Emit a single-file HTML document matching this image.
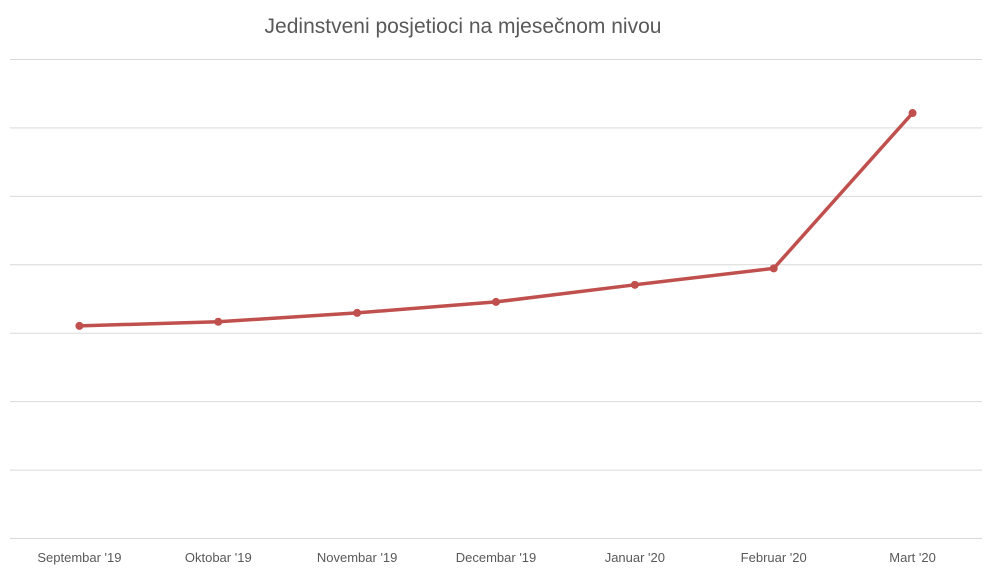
<!DOCTYPE html>
<html><head><meta charset="utf-8"><style>
html,body{margin:0;padding:0;background:#fff;}
svg{display:block;font-family:"Liberation Sans",sans-serif;}
</style></head><body>
<svg id="chart" width="991" height="577" viewBox="0 0 991 577">
<text x="463" y="33" text-anchor="middle" font-size="21" fill="#595959">Jedinstveni posjetioci na mjesečnom nivou</text>
<g id="grid"></g><g id="xlabels"></g><g id="series"></g>
</svg>
<script>
const categories=["Septembar '19","Oktobar '19","Novembar '19","Decembar '19","Januar '20","Februar '20","Mart '20"];
const values=[3.10,3.16,3.29,3.45,3.70,3.94,6.21];
const gridTicks=[0,1,2,3,4,5,6,7];
const NS="http://www.w3.org/2000/svg";
const plotLeft=10,plotRight=982,plotTop=59,plotBottom=538,yMax=7;
const stepX=(plotRight-plotLeft)/categories.length;
function xPos(i){return plotLeft+stepX*(i+0.5);}
function yPos(v){return plotBottom-(v/yMax)*(plotBottom-plotTop);}
const gridG=document.getElementById('grid');
gridTicks.forEach(t=>{
  const l=document.createElementNS(NS,'line');
  
  
  l.setAttribute('x1',plotLeft);l.setAttribute('x2',plotRight);
  l.setAttribute('y1',yPos(t)+0.5);l.setAttribute('y2',yPos(t)+0.5);
  l.setAttribute('stroke','#d9d9d9');l.setAttribute('stroke-width','1');
  gridG.appendChild(l);
});
const xlG=document.getElementById('xlabels');
categories.forEach((c,i)=>{
  const t=document.createElementNS(NS,'text');
  
  
  t.setAttribute('x',xPos(i));t.setAttribute('y',562);
  t.setAttribute('text-anchor','middle');t.setAttribute('font-size','13');
  t.setAttribute('fill','#595959');t.textContent=c;
  xlG.appendChild(t);
});
const seriesG=document.getElementById('series');
const poly=document.createElementNS(NS,'polyline');


poly.setAttribute('points',values.map((v,i)=>xPos(i)+','+yPos(v)).join(' '));
poly.setAttribute('fill','none');poly.setAttribute('stroke','#c0504d');
poly.setAttribute('stroke-width','3.5');poly.setAttribute('stroke-linejoin','round');poly.setAttribute('stroke-linecap','round');
seriesG.appendChild(poly);
values.forEach((v,i)=>{
  const c=document.createElementNS(NS,'circle');
  
  
  c.setAttribute('cx',xPos(i));c.setAttribute('cy',yPos(v));c.setAttribute('r','4');
  c.setAttribute('fill','#c0504d');
  seriesG.appendChild(c);
});
</script>
</body></html>
